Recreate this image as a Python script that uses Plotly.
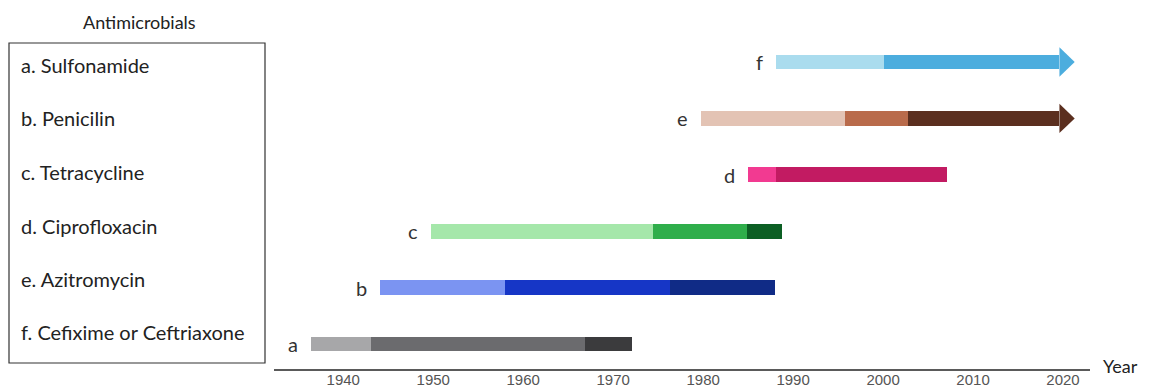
import plotly.graph_objects as go

# ---- data ----
letters = ["a", "b", "c", "d", "e", "f"]
drug_names = ["a. Sulfonamide", "b. Penicilin", "c. Tetracycline",
              "d. Ciprofloxacin", "e. Azitromycin", "f. Cefixime or Ceftriaxone"]
# year breakpoints of each timeline (start, stage changes, end)
breaks_a = [1936.4, 1943.1, 1966.9, 1972.1]
breaks_b = [1944.1, 1958.0, 1976.3, 1988.0]
breaks_c = [1949.7, 1974.4, 1984.9, 1988.8]
breaks_d = [1985.0, 1988.1, 2007.1]
breaks_e = [1979.8, 1995.8, 2002.8, 2021.3]
breaks_f = [1988.1, 2000.1, 2021.3]
ongoing = [False, False, False, False, True, True]
colors_a = ["#a7a7a9", "#6b6b6e", "#3b3b3d"]
colors_b = ["#7b94f2", "#1636c6", "#102b86"]
colors_c = ["#a5e7aa", "#2fae4b", "#0c5f24"]
colors_d = ["#f23a91", "#c21b62"]
colors_e = ["#e3c3b4", "#b96b4b", "#5b2f1f"]
colors_f = ["#aadcee", "#4cadde"]
tick_years = [1940, 1950, 1960, 1970, 1980, 1990, 2000, 2010, 2020]

all_breaks = [breaks_a, breaks_b, breaks_c, breaks_d, breaks_e, breaks_f]
all_colors = [colors_a, colors_b, colors_c, colors_d, colors_e, colors_f]

# ---- layout geometry (page has an 8px body margin) ----
OFF = 8
W, H = 1150 - OFF, 389 - OFF
H_REQ = H + 16
ML, MR, MT, MB = 274 - OFF, 60, 40 - OFF, 20
X_RANGE = [1932.3, 2023.0]
Y_RANGE = [-0.443, 5.39]
BAR_W = 0.26
HEAD_LEN = 1.7     # years
HEAD_HALF = 0.26   # y units
FONT = "Lato, Noto Sans, sans-serif"

fig = go.Figure()

for i, (brk, cols, ong) in enumerate(zip(all_breaks, all_colors, ongoing)):
    n = len(brk) - 1
    for k in range(n):
        start = brk[k]
        end = brk[k + 1]
        if ong and k == n - 1:
            end = end - HEAD_LEN
        fig.add_trace(go.Bar(
            y=[i], x=[end - start], base=[start], orientation="h",
            width=BAR_W, marker=dict(color=cols[k], line=dict(width=0)),
            showlegend=False, hoverinfo="skip"))
    if ong:
        tip = brk[-1]
        fig.add_trace(go.Scatter(
            x=[tip - HEAD_LEN, tip, tip - HEAD_LEN, tip - HEAD_LEN],
            y=[i - HEAD_HALF, i, i + HEAD_HALF, i - HEAD_HALF],
            mode="lines", fill="toself", fillcolor=cols[-1],
            line=dict(width=0, color=cols[-1]),
            showlegend=False, hoverinfo="skip"))
    fig.add_annotation(x=brk[0], y=i, text=letters[i], showarrow=False,
                       xanchor="right", yanchor="middle", xshift=-11,
                       font=dict(family=FONT, size=20, color="#333333"))

PW = W - ML - MR
PH = H - MT - MB

def px_x(px):
    return (px - OFF - ML) / PW

def px_y(py):
    return (H - MB - (py - OFF)) / PH

# legend box
fig.add_shape(type="rect", xref="paper", yref="paper",
              x0=px_x(9), x1=px_x(265), y0=px_y(363), y1=px_y(43),
              line=dict(color="#333333", width=1.2), fillcolor="rgba(0,0,0,0)")
fig.add_annotation(xref="paper", yref="paper", x=px_x(139), y=px_y(8.5),
                   text="Antimicrobials", showarrow=False, xanchor="center", yanchor="top",
                   font=dict(family=FONT, size=18, color="#222222"))
item_y = [65, 118, 172, 226, 279, 332]
for name, yy in zip(drug_names, item_y):
    fig.add_annotation(xref="paper", yref="paper", x=px_x(19), y=px_y(yy),
                       text=name, showarrow=False, xanchor="left", yanchor="middle",
                       font=dict(family=FONT, size=20, color="#222222"))

fig.add_annotation(xref="paper", yref="paper", x=px_x(1140), y=px_y(366),
                   text="Year", showarrow=False, xanchor="right", yanchor="middle",
                   font=dict(family=FONT, size=18, color="#222222"))

fig.update_layout(
    width=W, height=H_REQ,
    margin=dict(l=ML, r=MR, t=MT, b=MB + (H_REQ - H), pad=0),
    paper_bgcolor="white", plot_bgcolor="white",
    barmode="overlay", bargap=0,
    xaxis=dict(range=X_RANGE, tickmode="array", tickvals=tick_years,
               ticktext=[str(t) for t in tick_years],
               showgrid=False, zeroline=False, showline=True,
               linecolor="#5a5a5a", linewidth=2, ticks="",
               ticklabelstandoff=-4,
               tickfont=dict(family="Liberation Sans Narrow, Arial Narrow, sans-serif",
                             size=15, color="#555555")),
    yaxis=dict(range=Y_RANGE, showgrid=False, zeroline=False, showline=False,
               showticklabels=False, ticks=""),
)

fig.write_html("out.html")
